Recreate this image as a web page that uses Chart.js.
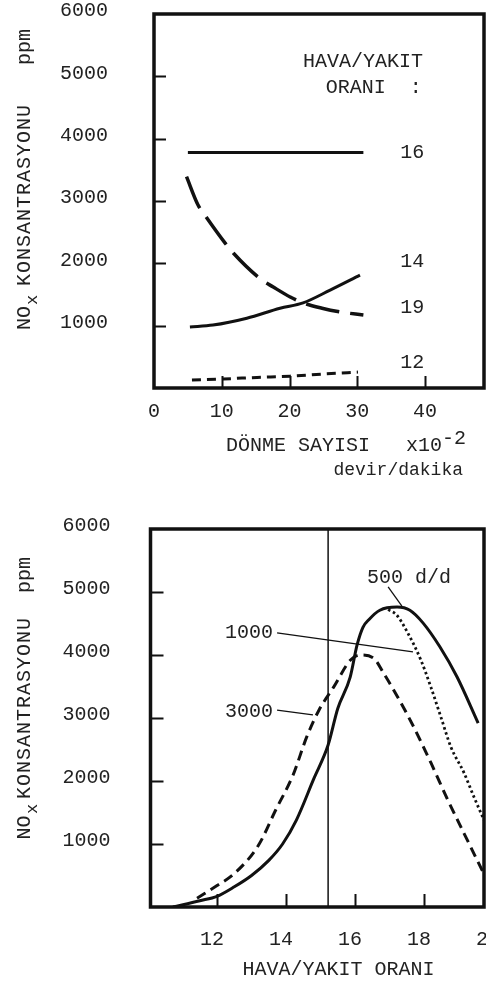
<!DOCTYPE html>
<html>
<head>
<meta charset="utf-8">
<script src="https://cdn.jsdelivr.net/npm/chart.js@4.4.1/dist/chart.umd.min.js"></script>
<style>
  html, body { margin: 0; padding: 0; background: #fff; overflow: hidden; }
  body { width: 486px; height: 984px; position: relative; }
  canvas { position: absolute; left: 0; }
  #speedChart { top: 0; }
  #ratioChart { top: 495px; }
</style>
</head>
<body>
<canvas id="speedChart" width="486" height="495"></canvas>
<canvas id="ratioChart" width="486" height="489"></canvas>
<script>
// --- upper plot: NOx vs engine speed (x100 rpm), one curve per air/fuel ratio
const speedTicks = [0, 10, 20, 30, 40];
const noxTicks = [1000, 2000, 3000, 4000, 5000, 6000];
const ratioNames = ['16', '14', '19', '12'];

const speed16 = [5.0, 30.9];
const nox16 = [3780, 3780];
const speed14 = [4.8, 6.5, 7.5, 10.5, 11.7, 15.7, 17.6, 20.1, 22.0, 24.8, 27.5, 30.9];
const nox14 = [3390, 2935, 2775, 2325, 2165, 1750, 1620, 1460, 1365, 1280, 1220, 1170];
const speed19 = [5.3, 8.7, 13.7, 18.6, 22.0, 26.0, 30.4];
const nox19 = [980, 1010, 1120, 1280, 1365, 1570, 1810];
const speed12 = [5.6, 10.2, 15.2, 20.1, 25.0, 30.1];
const nox12 = [130, 145, 170, 190, 225, 255];

// --- lower plot: NOx vs air/fuel ratio, one curve per engine speed
const ratioTicks = [12, 14, 16, 18, 20];
const speedNames = ['500 d/d', '1000', '3000'];

const afr500 = [10.72, 11.5, 12.0, 12.5, 13.0, 13.5, 13.9, 14.3, 14.8, 15.22, 15.5, 15.86, 16.06, 16.23, 16.4, 16.72, 17.22, 17.59, 17.97, 18.46, 18.96, 19.57];
const nox500 = [0, 100, 170, 320, 500, 740, 1000, 1380, 2030, 2570, 3150, 3650, 4160, 4440, 4560, 4710, 4760, 4710, 4510, 4130, 3650, 2920];
const afr1000 = [16.96, 17.2, 17.53, 17.91, 18.2, 18.49, 18.78, 19.16, 19.45, 19.74];
const nox1000 = [4720, 4640, 4350, 3920, 3490, 3015, 2540, 2130, 1745, 1380];
const afr3000 = [11.42, 12.0, 12.5, 13.2, 13.7, 14.2, 14.6, 14.95, 15.38, 15.87, 16.16, 16.54, 16.83, 17.24, 17.7, 18.2, 18.69, 19.16, 19.71];
const nox3000 = [140, 340, 530, 980, 1540, 2090, 2700, 3120, 3490, 3920, 4000, 3950, 3710, 3330, 2860, 2290, 1700, 1170, 555];
const stoichRatio = 15.22;

const FAMILY = "'Liberation Mono', 'DejaVu Sans Mono', monospace";
const FONT = '20px ' + FAMILY;
const INK = '#222';
const LINE = '#111';

const pts = (xs, ys) => xs.map((x, i) => ({ x: x, y: ys[i] }));

function curve(data, width, dash) {
  return {
    data: data,
    showLine: true,
    borderColor: LINE,
    borderWidth: width,
    borderDash: dash || [],
    borderCapStyle: 'butt',
    pointRadius: 0,
    cubicInterpolationMode: 'monotone',
    fill: false
  };
}

// rotated y title, with the x of NOx set as a subscript
function yTitle(ctx, cx, yPpm, yKons, yNo, ySub) {
  const put = (text, x, y, font, spacing) => {
    ctx.save();
    ctx.translate(x, y);
    ctx.rotate(-Math.PI / 2);
    ctx.font = font;
    ctx.letterSpacing = spacing || '0px';
    ctx.textAlign = 'center';
    ctx.textBaseline = 'middle';
    ctx.fillText(text, 0, 0);
    ctx.restore();
  };
  put('ppm', cx, yPpm, FONT);
  put('KONSANTRASYONU', cx, yKons, FONT, '1px');
  put('NO', cx, yNo, FONT);
  put('x', cx + 7, ySub, '17px ' + FAMILY);
}

// box frame, inward tick marks, curve labels and axis titles
function frame(opts) {
  return {
    id: 'frame',
    afterDraw(chart) {
      const ctx = chart.ctx, a = chart.chartArea;
      const x = chart.scales.x, y = chart.scales.y;
      ctx.save();
      ctx.strokeStyle = LINE;
      ctx.lineWidth = 2;
      ctx.beginPath();
      x.ticks.forEach(t => {
        if (t.value <= x.min || t.value >= x.max) return;
        const px = Math.round(x.getPixelForValue(t.value)) + 0.5;
        ctx.moveTo(px, a.bottom);
        ctx.lineTo(px, a.bottom - opts.tick);
      });
      y.ticks.forEach(t => {
        if (t.value <= y.min || t.value >= y.max) return;
        const py = Math.round(y.getPixelForValue(t.value)) + 0.5;
        ctx.moveTo(a.left, py);
        ctx.lineTo(a.left + opts.tick, py);
      });
      ctx.stroke();

      ctx.lineWidth = 3.5;
      ctx.strokeRect(a.left, a.top, a.right - a.left, a.bottom - a.top);

      ctx.fillStyle = INK;
      ctx.font = FONT;
      ctx.textBaseline = 'middle';
      (opts.notes || []).forEach(n => {
        ctx.textAlign = n.align || 'center';
        ctx.fillText(n.text, x.getPixelForValue(n.x), y.getPixelForValue(n.y));
      });
      (opts.leaders || []).forEach(l => {
        ctx.lineWidth = 1.3;
        ctx.beginPath();
        ctx.moveTo(x.getPixelForValue(l[0]), y.getPixelForValue(l[1]));
        ctx.lineTo(x.getPixelForValue(l[2]), y.getPixelForValue(l[3]));
        ctx.stroke();
      });
      if (opts.titles) opts.titles(ctx, a);
      ctx.restore();
    }
  };
}

function scales(o) {
  return {
    x: {
      type: 'linear',
      min: o.xMin,
      max: o.xMax,
      afterBuildTicks: s => { s.ticks = o.xTicks.map(v => ({ value: v })); },
      afterFit: s => { s.height = o.xHeight; s.paddingLeft = 0; s.paddingRight = 0; },
      grid: { display: false },
      border: { display: false },
      ticks: {
        autoSkip: false,
        maxRotation: 0,
        padding: o.xPad,
        labelOffset: o.xShift || 0,
        color: INK,
        font: { family: FAMILY, size: 20 },
        callback: v => String(v)
      }
    },
    y: {
      type: 'linear',
      min: 0,
      max: 6000,
      afterBuildTicks: s => { s.ticks = noxTicks.map(v => ({ value: v })); },
      afterFit: s => { s.width = o.yWidth; s.paddingTop = 0; s.paddingBottom = 0; },
      grid: { display: false },
      border: { display: false },
      ticks: {
        autoSkip: false,
        padding: o.yPad,
        labelOffset: -3,
        color: INK,
        font: { family: FAMILY, size: 20 },
        callback: v => String(v)
      }
    }
  };
}

const common = {
  responsive: false,
  animation: false,
  events: [],
  plugins: { legend: { display: false }, tooltip: { enabled: false } }
};

new Chart(document.getElementById('speedChart'), {
  type: 'scatter',
  data: {
    datasets: [
      curve(pts(speed16, nox16), 3),
      curve(pts(speed14, nox14), 3.5, [34, 11]),
      curve(pts(speed19, nox19), 3),
      curve(pts(speed12, nox12), 3, [9, 6])
    ]
  },
  options: Object.assign({}, common, {
    layout: { padding: { top: 14, right: 2, left: 0, bottom: 0 } },
    scales: scales({ xMin: 0, xMax: 48.7, xTicks: speedTicks, xHeight: 107, xPad: 4, yWidth: 154, yPad: 38 })
  }),
  plugins: [frame({
    tick: 12,
    notes: [
      { text: 'HAVA/YAKIT', x: 39.7, y: 5230, align: 'right' },
      { text: 'ORANI  :', x: 39.5, y: 4812, align: 'right' },
      { text: ratioNames[0], x: 38.1, y: 3770 },
      { text: ratioNames[1], x: 38.1, y: 2021 },
      { text: ratioNames[2], x: 38.1, y: 1283 },
      { text: ratioNames[3], x: 38.1, y: 401 }
    ],
    titles: (ctx) => {
      ctx.textAlign = 'left';
      ctx.textBaseline = 'middle';
      const main = 'DÖNME SAYISI   x10';
      ctx.fillText(main, 226, 446);
      ctx.fillText('-2', 226 + ctx.measureText(main).width, 439);
      ctx.font = '18px ' + FAMILY;
      ctx.textAlign = 'right';
      ctx.fillText('devir/dakika', 463, 470);
      yTitle(ctx, 25, 47, 195, 318, 300);
    }
  })]
});

new Chart(document.getElementById('ratioChart'), {
  type: 'scatter',
  data: {
    datasets: [
      curve(pts([stoichRatio, stoichRatio], [0, 6000]), 1.5),
      curve(pts(afr500, nox500), 3),
      curve(pts(afr1000, nox1000), 2.8, [2.5, 2.8]),
      curve(pts(afr3000, nox3000), 3, [10, 6])
    ]
  },
  options: Object.assign({}, common, {
    layout: { padding: { top: 34, right: 2, left: 0, bottom: 0 } },
    scales: scales({ xMin: 10.07, xMax: 19.74, xTicks: ratioTicks, xHeight: 77, xPad: 13, xShift: -5, yWidth: 150.5, yPad: 32 })
  }),
  plugins: [frame({
    tick: 13,
    notes: [
      { text: speedNames[0], x: 16.35, y: 5220, align: 'left' },
      { text: speedNames[1], x: 13.62, y: 4350, align: 'right' },
      { text: speedNames[2], x: 13.62, y: 3095, align: 'right' }
    ],
    leaders: [
      [16.96, 5080, 17.36, 4777],
      [13.74, 4350, 17.68, 4050],
      [13.74, 3125, 14.78, 3050]
    ],
    titles: (ctx) => {
      ctx.textAlign = 'center';
      ctx.textBaseline = 'middle';
      ctx.fillText('HAVA/YAKIT ORANI', 338.5, 475);
      yTitle(ctx, 25, 80, 213, 332.5, 314);
    }
  })]
});
</script>
</body>
</html>
